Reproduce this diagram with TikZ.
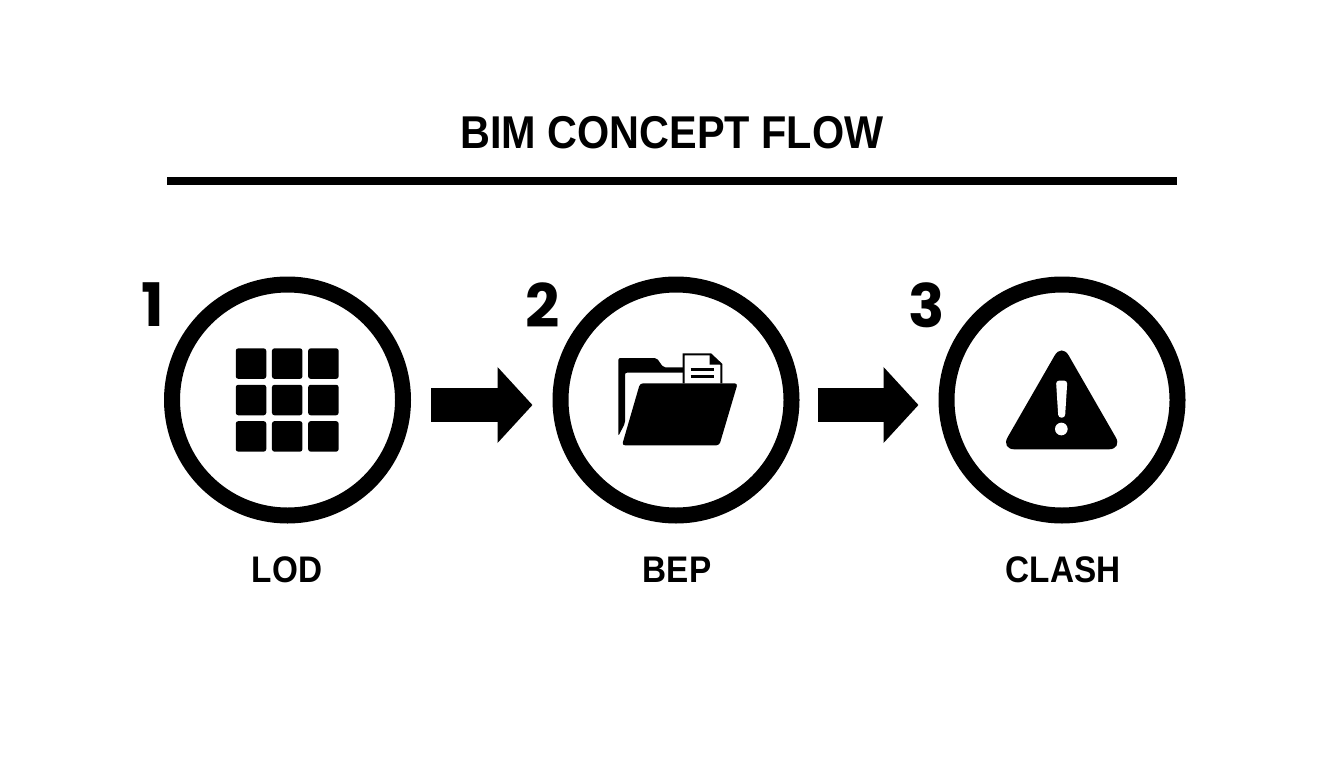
\documentclass[tikz,border=0pt]{standalone}
\usepackage{fontspec}
\setmainfont[FakeStretch=0.9]{Liberation Sans}
\newfontfamily\numfont{Poppins}
\usetikzlibrary{arrows.meta}
\tikzset{
  stage/.style={circle, draw, line width=16pt, minimum size=231pt, inner sep=0pt},
  flow/.style={line width=34pt, -{Triangle[length=35pt,width=74pt]}, shorten <=20pt, shorten >=20pt},
  rulebar/.style={line width=7.5pt},
  title/.style={font=\fontsize{46}{46}\selectfont\bfseries},
  caption/.style={font=\fontsize{37}{37}\selectfont\bfseries},
  number/.style={font=\fontsize{60}{60}\selectfont\numfont\bfseries},
  cell/.style={fill, rounded corners=2.5pt, minimum size=30.5pt, inner sep=0pt}
}
\begin{document}
\begin{tikzpicture}[x=1pt,y=-1pt]
\useasboundingbox (0,0) rectangle (1344,768);
\node[title] (head) at (672,133) {BIM CONCEPT FLOW};
\coordinate (ruleL) at (167,181);
\coordinate (ruleR) at (1177,181);
\draw[rulebar] (ruleL) -- (ruleR);
\node[stage] (c1) at (287.5,400) {};
\node[stage] (c2) at (676,400) {};
\node[stage] (c3) at (1062,400) {};
\draw[flow] ([yshift=-5pt]c1.east) -- ([yshift=-5pt]c2.west);
\draw[flow, shorten <=18pt] ([yshift=-5pt]c2.east) -- ([yshift=-5pt]c3.west);
\node[number] (n1) at (152.5,305) {1};
\node[number] (n2) at (542.5,305) {2};
\node[number] (n3) at (926.5,305) {3};
\node[caption] (lod) at (287,570) {LOD};
\node[caption] (bep) at (677,570) {BEP};
\node[caption] (clash) at (1063,570) {CLASH};
\foreach \i in {0,1,2}
  \foreach \j in {0,1,2}
    \node[cell] (g\i\j) at (251+36.2*\i,363.6+36.4*\j) {};
\begin{scope}[shift={(590,330)},scale=1/3]
\fill[rounded corners=2pt] (85,318) -- (85,84) -- (200,84) -- (220,112) -- (285,112) -- (285,128) -- (105,128) -- (105,280) -- cycle;
\draw[fill=white, line width=2pt] (281,160) -- (281,73) -- (362,73) -- (394,103) -- (394,160);
\fill (359,72) -- (396,104) -- (359,104) -- cycle;
\draw[line width=3.3pt] (302,118) -- (372,118);
\draw[line width=3.3pt] (302,140) -- (372,140);
\fill[rounded corners=3pt] (150,160) -- (443,160) -- (388,346) -- (96,346) -- cycle;
\end{scope}
\begin{scope}[shift={(990,330)},scale=1/3]
\fill[rounded corners=14pt] (215,40) -- (398,358) -- (32,358) -- cycle;
\fill[white, rounded corners=3pt] (198,152) -- (232,152) -- (225,263) -- (205,263) -- cycle;
\fill[white] (214,297) circle[radius=19];
\end{scope}
\end{tikzpicture}
\end{document}
